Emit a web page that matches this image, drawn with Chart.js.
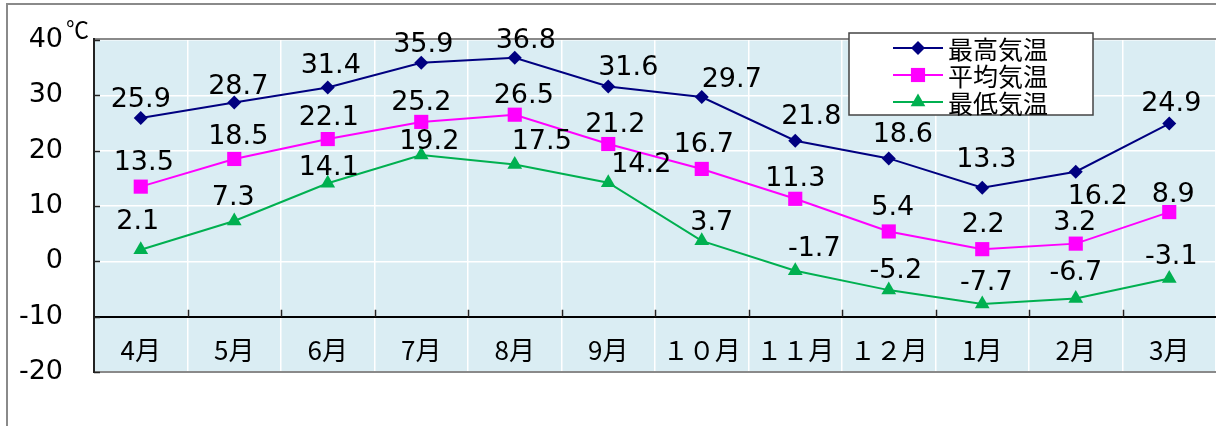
<!DOCTYPE html>
<html lang="ja">
<head>
<meta charset="utf-8">
<title>月別気温</title>
<script src="https://cdn.jsdelivr.net/npm/chart.js@4.4.1/dist/chart.umd.min.js"></script>
<style>
  html, body { margin: 0; padding: 0; background: #fff; overflow: hidden; }
  canvas { display: block; }
</style>
</head>
<body>
<canvas id="grafico" width="1226" height="426"></canvas>
<script>
const meses = ["4月", "5月", "6月", "7月", "8月", "9月", "１０月", "１１月", "１２月", "1月", "2月", "3月"];
const maxima = [25.9, 28.7, 31.4, 35.9, 36.8, 31.6, 29.7, 21.8, 18.6, 13.3, 16.2, 24.9];
const media = [13.5, 18.5, 22.1, 25.2, 26.5, 21.2, 16.7, 11.3, 5.4, 2.2, 3.2, 8.9];
const minima = [2.1, 7.3, 14.1, 19.2, 17.5, 14.2, 3.7, -1.7, -5.2, -7.7, -6.7, -3.1];
const nombres = ["最高気温", "平均気温", "最低気温"];
const yMin = -20, yMax = 40, yPaso = 10;
const unidad = "℃";

// desplazamiento de cada etiqueta respecto a su punto [dx, dy]
const desplaz = [
  [[0,-18],[4,-16],[3,-22],[2,-18],[11,-17],[20,-18],[30,-17],[16,-24],[14,-23],[4,-28],[22,25],[2,-20]],
  [[3,-24],[4,-22],[1,-21],[0,-19],[9,-19],[7,-19],[2,-24],[0,-20],[4,-23],[1,-24],[-1,-21],[4,-17]],
  [[-3,-28],[-1,-23],[1,-15],[8,-13],[27,-23],[33,-18],[10,-18],[19,-22],[7,-19],[4,-21],[0,-25],[2,-22]]
];

const fondo = "#daedf3";
const numFont = "'DejaVu Sans', sans-serif";
const jpFont = "'Noto Sans CJK JP', sans-serif";

const extras = {
  id: "extras",
  beforeDraw(chart) {
    const { ctx, chartArea: a } = chart;
    ctx.save();
    ctx.fillStyle = "#fff";
    ctx.fillRect(0, 0, chart.width, chart.height);
    ctx.strokeStyle = "#8a8a8a";
    ctx.lineWidth = 2;
    ctx.beginPath();
    ctx.moveTo(7, chart.height);
    ctx.lineTo(7, 4);
    ctx.lineTo(chart.width, 4);
    ctx.stroke();
    ctx.fillStyle = fondo;
    ctx.fillRect(a.left, a.top, a.right - a.left, a.bottom - a.top);
    ctx.restore();
  },
  afterDatasetsDraw(chart) {
    const { ctx, chartArea: a, scales: { x, y } } = chart;
    ctx.save();
    // bordes del área
    ctx.strokeStyle = "#8a8a8a";
    ctx.lineWidth = 2;
    ctx.beginPath();
    ctx.moveTo(a.left, a.top - 1);
    ctx.lineTo(a.right, a.top - 1);
    ctx.moveTo(a.left, a.bottom);
    ctx.lineTo(a.right, a.bottom);
    ctx.stroke();
    ctx.strokeStyle = "#222";
    ctx.lineWidth = 2;
    ctx.beginPath();
    ctx.moveTo(a.left, a.top - 2);
    ctx.lineTo(a.left, a.bottom + 1);
    ctx.stroke();
    // marcas
    ctx.lineWidth = 1.5;
    ctx.beginPath();
    for (let v = yMin; v <= yMax; v += yPaso) {
      const py = Math.round(y.getPixelForValue(v)) + 0.5;
      ctx.moveTo(a.left, py);
      ctx.lineTo(a.left + 6, py);
    }
    const y0 = y.getPixelForValue(-10);
    for (let i = 0; i < meses.length - 1; i++) {
      const px = Math.round((x.getPixelForTick(i) + x.getPixelForTick(i + 1)) / 2) + 0.5;
      ctx.moveTo(px, y0);
      ctx.lineTo(px, y0 - 7);
    }
    ctx.stroke();

    // unidad
    ctx.fillStyle = "#000";
    ctx.font = "23px " + jpFont;
    ctx.textAlign = "left";
    ctx.textBaseline = "middle";
    ctx.fillText(unidad, 66, a.top - 11);

    // etiquetas de datos
    ctx.font = "27px " + numFont;
    ctx.textAlign = "center";
    chart.data.datasets.forEach((ds, i) => {
      chart.getDatasetMeta(i).data.forEach((p, j) => {
        const d = desplaz[i][j];
        ctx.fillText(ds.data[j].toFixed(1), p.x + d[0], p.y + d[1]);
      });
    });

    // leyenda
    const lx = 849, ly = 33, lw = 244, lh = 82;
    ctx.fillStyle = "#fff";
    ctx.fillRect(lx, ly, lw, lh);
    ctx.strokeStyle = "#444";
    ctx.lineWidth = 1.5;
    ctx.strokeRect(lx, ly, lw, lh);
    chart.data.datasets.forEach((ds, i) => {
      const ry = ly + 15 + i * 27;
      ctx.strokeStyle = ds.borderColor;
      ctx.lineWidth = 2;
      ctx.beginPath();
      ctx.moveTo(lx + 44, ry);
      ctx.lineTo(lx + 94, ry);
      ctx.stroke();
      ctx.fillStyle = ds.backgroundColor;
      Chart.helpers.drawPoint(ctx, {
        pointStyle: ds.pointStyle, radius: ds.pointRadius, rotation: 0, borderWidth: 0
      }, lx + 69, ry);
      ctx.fillStyle = "#000";
      ctx.font = "25px " + jpFont;
      ctx.textAlign = "left";
      ctx.textBaseline = "middle";
      ctx.fillText(ds.label, lx + 99, ry + 1);
    });
    ctx.restore();
  }
};

const ctx = document.getElementById("grafico").getContext("2d");
new Chart(ctx, {
  type: "line",
  data: {
    labels: meses,
    datasets: [
      { label: nombres[0], data: maxima, borderColor: "#000080", backgroundColor: "#000080",
        pointStyle: "rectRot", pointRadius: 7 },
      { label: nombres[1], data: media, borderColor: "#ff00ff", backgroundColor: "#ff00ff",
        pointStyle: "rect", pointRadius: 10 },
      { label: nombres[2], data: minima, borderColor: "#00b050", backgroundColor: "#00b050",
        pointStyle: "triangle", pointRadius: 8.5 }
    ].map(d => Object.assign(d, { borderWidth: 2, pointBorderWidth: 0, tension: 0, clip: false }))
  },
  options: {
    responsive: false,
    animation: false,
    devicePixelRatio: 1,
    layout: { padding: { top: 40, right: 0, bottom: 54, left: 0 } },
    plugins: { legend: { display: false }, tooltip: { enabled: false } },
    scales: {
      x: {
        position: { y: -10 },
        offset: true,
        grid: { color: "#ffffff", lineWidth: 1.5, offset: true, drawTicks: true, tickLength: 18, tickColor: "rgba(0,0,0,0)" },
        border: { color: "#000", width: 2 },
        ticks: { color: "#000", font: { family: jpFont, size: 26 }, padding: 0, maxRotation: 0, autoSkip: false }
      },
      y: {
        min: yMin,
        max: yMax,
        afterFit(scale) { scale.width = 94; },
        ticks: { stepSize: yPaso, color: "#000", font: { family: numFont, size: 27 }, padding: 0 },
        grid: {
          color: c => (c.tick && c.tick.value === -10) ? "rgba(0,0,0,0)" : "#ffffff",
          lineWidth: 1.5, drawTicks: true, tickLength: 31, tickColor: "rgba(0,0,0,0)"
        },
        border: { color: "#222", width: 2 }
      }
    }
  },
  plugins: [extras]
});
</script>
</body>
</html>
